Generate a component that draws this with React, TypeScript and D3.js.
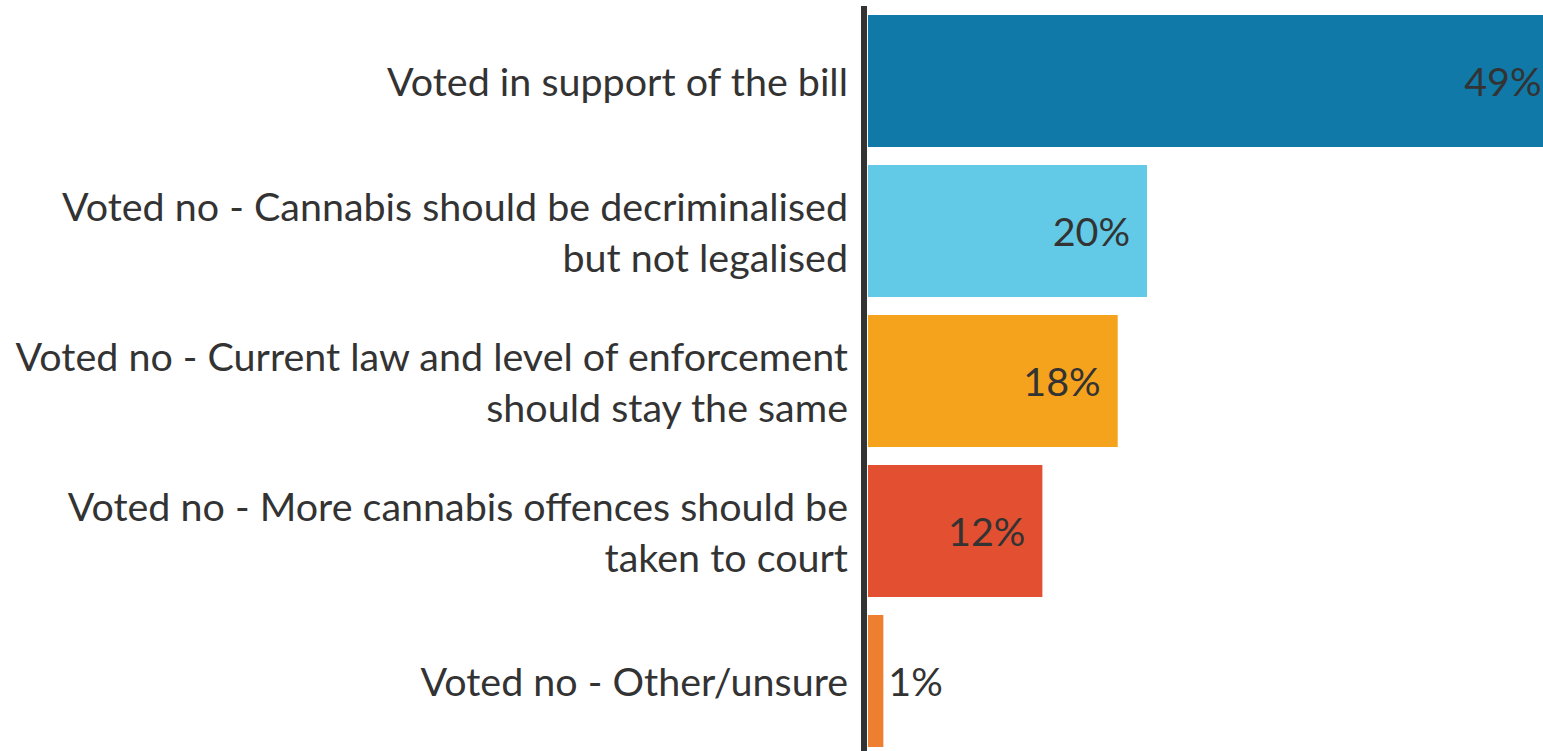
import React, { useEffect, useRef } from "react";
import * as d3 from "d3";

const categories: string[][] = [
  ["Voted in support of the bill"],
  ["Voted no - Cannabis should be decriminalised", "but not legalised"],
  ["Voted no - Current law and level of enforcement", "should stay the same"],
  ["Voted no - More cannabis offences should be", "taken to court"],
  ["Voted no - Other/unsure"],
];
const values: number[] = [49.5, 20, 17.9, 12.5, 1.1];
const valueLabels: string[] = ["49%", "20%", "18%", "12%", "1%"];
const colors: string[] = ["#1079A8", "#62C9E7", "#F5A21D", "#E35031", "#EE7F31"];

const W = 1543;
const H = 751;

export default function App() {
  const ref = useRef<SVGSVGElement | null>(null);

  useEffect(() => {
    const svg = d3.select(ref.current);
    svg.selectAll("*").remove();

    const fontFamily = "Lato, 'Open Sans', sans-serif";
    const probe = svg
      .append("text")
      .attr("font-family", fontFamily)
      .attr("font-size", 42)
      .text("Voted in support of the bill");
    const measured = (probe.node() as SVGTextElement).getComputedTextLength();
    probe.remove();
    const fs = measured > 0 ? (42 * 461) / measured : 42;

    const x0 = 868;
    const pxPerPct = 13.95;
    const x = d3
      .scaleLinear()
      .domain([0, 1])
      .range([x0, x0 + pxPerPct]);

    const y = d3
      .scaleBand<number>()
      .domain(values.map((_, i) => i))
      .range([6, 756])
      .paddingInner(0.12)
      .paddingOuter(0.06);

    const g = svg.append("g");

    g.selectAll("rect.bar")
      .data(values)
      .join("rect")
      .attr("class", "bar")
      .attr("x", x(0))
      .attr("y", (_, i) => y(i)!)
      .attr("width", (d) => x(d) - x(0))
      .attr("height", y.bandwidth())
      .attr("fill", (_, i) => colors[i]);

    g.append("line")
      .attr("x1", 864)
      .attr("x2", 864)
      .attr("y1", 6)
      .attr("y2", H + 10)
      .attr("stroke", "#333333")
      .attr("stroke-width", 6);

    const lineH = 51;
    const baseOff = fs * 0.34 + 2;

    categories.forEach((lines, i) => {
      const cy = y(i)! + y.bandwidth() / 2;
      const n = lines.length;
      lines.forEach((ln, j) => {
        g.append("text")
          .attr("x", 848)
          .attr("y", cy + (j - (n - 1) / 2) * lineH + baseOff)
          .attr("text-anchor", "end")
          .attr("font-family", fontFamily)
          .attr("font-size", fs)
          .attr("fill", "#333333")
          .text(ln);
      });
    });

    values.forEach((v, i) => {
      const cy = y(i)! + y.bandwidth() / 2;
      const end = x(v);
      const inside = end - x(0) > 100;
      g.append("text")
        .attr("x", inside ? end - 17 : end + 5)
        .attr("y", cy + baseOff)
        .attr("text-anchor", inside ? "end" : "start")
        .attr("font-family", fontFamily)
        .attr("font-size", fs)
        .attr("fill", "#333333")
        .text(valueLabels[i]);
    });
  }, []);

  return (
    <div style={{ position: "fixed", left: 0, top: 0, width: W, height: H, background: "#fff" }}>
      <svg ref={ref} width={W} height={H} style={{ display: "block", overflow: "hidden" }} />
    </div>
  );
}
